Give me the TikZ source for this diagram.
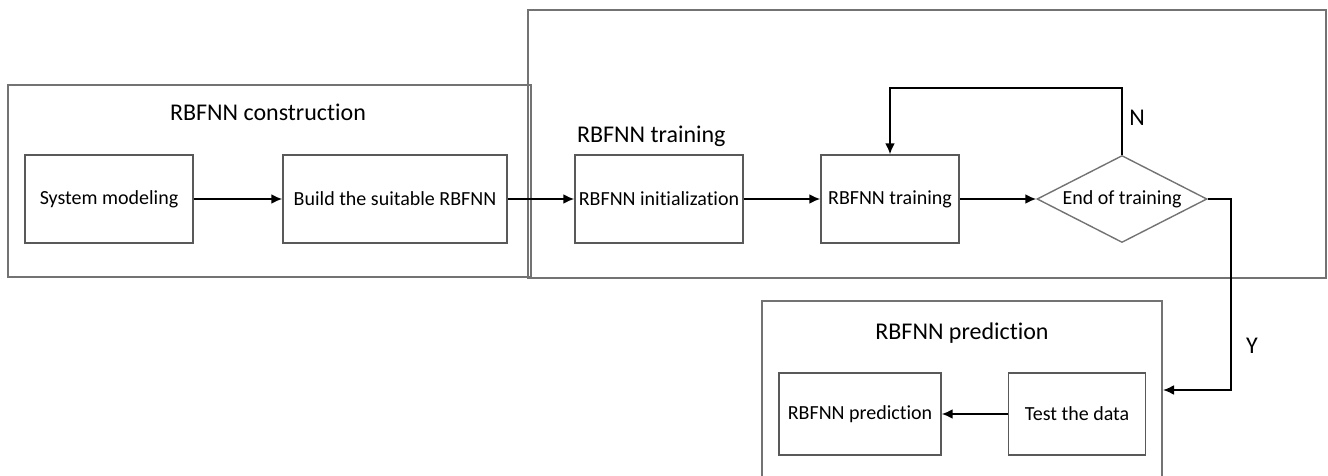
\documentclass[tikz,border=0pt]{standalone}
\usepackage{fontspec}
\setmainfont{Carlito}[RawFeature={-liga;-clig;-calt;-dlig}]
\usetikzlibrary{shapes.geometric, arrows, arrows.meta, positioning, calc}

\begin{document}
\begin{tikzpicture}[x=0.5pt, y=-0.5pt,
  frame/.style={draw=black!55, line width=0.8pt},
  stepbox/.style={draw=black!65, line width=0.7pt, minimum height=44pt, inner sep=0pt, font=\fontsize{10}{12}\selectfont},
  decide/.style={diamond, draw=black!55, line width=0.7pt, aspect=2, minimum width=85pt, minimum height=43.5pt, inner sep=0pt, font=\fontsize{10}{12}\selectfont},
  title/.style={font=\fontsize{12}{14}\selectfont},
  arr/.style={-{Latex[length=5.5pt, width=5pt]}, line width=1pt}]
\useasboundingbox (0,0) rectangle (1328,476);
\clip (0,0) rectangle (1328,476);
% stage frames
\draw[frame] (8,85) rectangle (531,277);
\draw[frame] (528,10) rectangle (1326,278);
\draw[frame] (762,301) rectangle (1162,500);
\node[title] (tcons) at (268,112) {RBFNN construction};
\node[title, anchor=west] (ttrain) at (570,136) {RBFNN training};
\node[title] (tpred) at (962,333) {RBFNN prediction};

% construction
\node[stepbox, minimum width=84pt] (sysmod) at (109,199) {System modeling};
\node[stepbox, minimum width=112pt] (build) at (395,199) {Build the suitable RBFNN};
% training
\node[stepbox, minimum width=84pt] (init) at (659,199) {RBFNN initialization};
\node[stepbox, minimum width=69pt] (train) at (890,199) {RBFNN training};
\node[decide] (endtr) at (1122,199) {End of training};
% prediction
\node[stepbox, minimum width=68.5pt, minimum height=41pt] (test) at (1077,414) {Test the data};
\node[stepbox, minimum width=81pt, minimum height=41pt] (pred) at (860,414) {RBFNN prediction};
\coordinate (predin) at (1163,390);

\draw[arr] (sysmod) -- (build);
\draw[arr] (build) -- (init);
\draw[arr] (init) -- (train);
\draw[arr] (train) -- (endtr);
\draw[arr] (endtr.north) -- ++(0,-67) -| (train.north);
\node[title] (lno) at (1137,118) {N};
\draw[arr] (endtr.east) -- ++(23,0) |- (predin);
\node[title] (lyes) at (1252,346) {Y};
\draw[arr] (test) -- (pred);
\end{tikzpicture}
\end{document}
